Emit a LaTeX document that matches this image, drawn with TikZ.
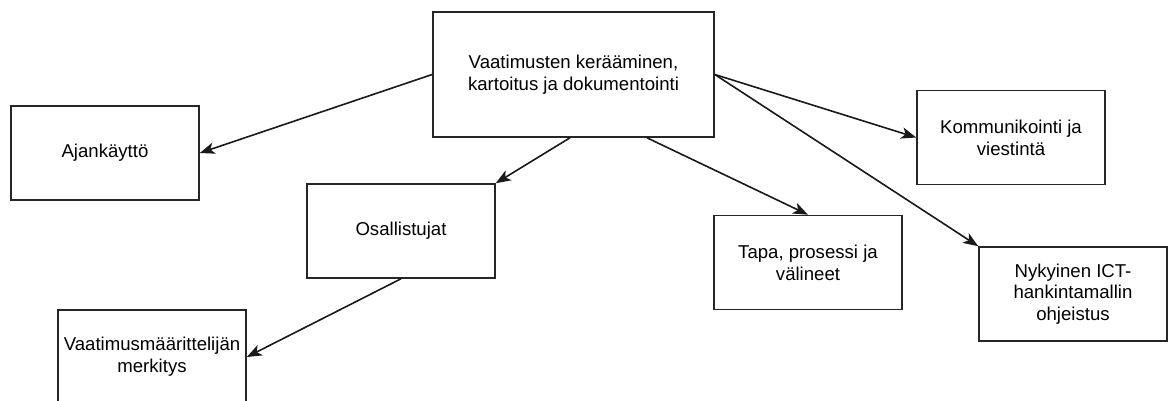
\documentclass[tikz,border=0pt]{standalone}
\usepackage{fontspec}
\setmainfont{Liberation Sans}
\usetikzlibrary{arrows.meta,calc}
\begin{document}
\begin{tikzpicture}[x=1pt,y=-1pt,
  box/.style={draw=black!85, line width=1.6pt, fill=white, rectangle,
    minimum width=188pt, minimum height=94pt, inner sep=2pt,
    align=center, font=\fontsize{18.6}{21.8}\selectfont},
  link/.style={draw=black!90, line width=1.6pt,
    -{Stealth[length=15pt,width=11.5pt,inset=4pt]}}]
\useasboundingbox (0,0) rectangle (1172,401);

% boxes
\node[box, minimum width=281pt, minimum height=125pt] (top) at (573.5,74.5)
  {Vaatimusten kerääminen,\\kartoitus ja dokumentointi};
\node[box] (ajan) at (105,153) {Ajankäyttö};
\node[box] (osal) at (401,231) {Osallistujat};
\node[box] (vaat) at (152,357) {Vaatimusmäärittelijän\\merkitys};
\node[box] (komm) at (1011,137.5) {Kommunikointi ja\\viestintä};
\node[box] (tapa) at (808,262.5) {Tapa, prosessi ja\\välineet};
\node[box] (nyk) at (1073,294) {Nykyinen ICT-\\hankintamallin\\ohjeistus};

% connectors
\draw[link] (top.west) -- (ajan.east);
\draw[link] ($(top.south west)!0.4875!(top.south east)$) -- (osal.north east);
\draw[link] ($(top.south west)!0.76!(top.south east)$) -- (tapa.north);
\draw[link] (top.east) -- (komm.west);
\draw[link] (top.east) -- (nyk.north west);
\draw[link] (osal.south) -- (vaat.east);
\end{tikzpicture}
\end{document}
